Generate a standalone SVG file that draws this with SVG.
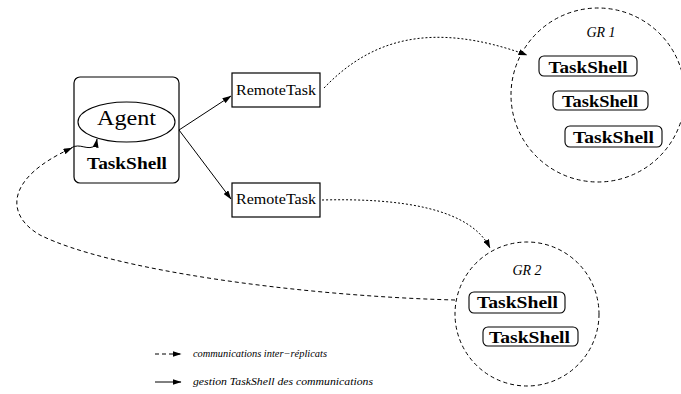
<svg xmlns="http://www.w3.org/2000/svg" width="681" height="394" viewBox="0 0 681 394">
<style>
.bx{fill:#fff;stroke:#000;stroke-width:1.2}
.pill{fill:#fff;stroke:#000;stroke-width:1.1}
.grp{fill:none;stroke:#000;stroke-width:1;stroke-dasharray:4 3}
.ts{font-family:"Liberation Serif",serif;font-weight:bold;font-size:17px;text-anchor:middle}
.rt{font-family:"Liberation Serif",serif;font-size:14px;text-anchor:middle}
.gr{font-family:"Liberation Serif",serif;font-style:italic;font-size:14px;text-anchor:middle}
.lg{font-family:"Liberation Serif",serif;font-style:italic;font-size:10px}
.solid{fill:none;stroke:#000;stroke-width:1}
.dot{fill:none;stroke:#000;stroke-width:1;stroke-dasharray:2 2}
.dash{fill:none;stroke:#000;stroke-width:1;stroke-dasharray:4 3}
</style>
<defs>
<marker id="ah" markerWidth="9" markerHeight="6" refX="8.5" refY="3" orient="auto" markerUnits="userSpaceOnUse">
<path d="M0,0 L9,3 L0,6 Z" fill="#000"/>
</marker>
</defs>
<rect width="681" height="394" fill="#fff"/>

<g id="agent-taskshell">
<rect class="bx" x="74" y="77" width="105" height="106" rx="6"/>
<ellipse cx="126.5" cy="122" rx="48.5" ry="20" fill="#fff" stroke="#000" stroke-width="1.1"/>
<text x="126.5" y="124.5" font-family="Liberation Serif,serif" font-size="22" text-anchor="middle" textLength="59" lengthAdjust="spacingAndGlyphs">Agent</text>
<text class="ts" x="127" y="169" textLength="80" lengthAdjust="spacingAndGlyphs">TaskShell</text>
</g>

<g id="remotetask1">
<rect class="bx" x="232" y="73" width="88" height="34"/>
<text class="rt" x="276" y="95" textLength="80" lengthAdjust="spacingAndGlyphs">RemoteTask</text>
</g>

<g id="remotetask2">
<rect class="bx" x="232" y="183" width="88" height="34"/>
<text class="rt" x="276" y="204" textLength="80" lengthAdjust="spacingAndGlyphs">RemoteTask</text>
</g>

<g id="gr1">
<circle class="grp" cx="598" cy="95" r="87"/>
<text class="gr" x="601" y="37">GR 1</text>
<rect class="pill" x="539" y="56" width="98" height="20" rx="5"/>
<text class="ts" x="588" y="72.5" textLength="79" lengthAdjust="spacingAndGlyphs">TaskShell</text>
<rect class="pill" x="553" y="91" width="95" height="19" rx="5"/>
<text class="ts" x="600" y="107" textLength="76" lengthAdjust="spacingAndGlyphs">TaskShell</text>
<rect class="pill" x="565" y="126" width="97" height="21" rx="5"/>
<text class="ts" x="613.5" y="143" textLength="81" lengthAdjust="spacingAndGlyphs">TaskShell</text>
</g>

<g id="gr2">
<circle class="grp" cx="527" cy="314" r="72"/>
<text class="gr" x="527" y="275">GR 2</text>
<rect class="pill" x="469" y="292" width="96" height="21" rx="5"/>
<text class="ts" x="517.5" y="308" textLength="81" lengthAdjust="spacingAndGlyphs">TaskShell</text>
<rect class="pill" x="483" y="327" width="95" height="19" rx="5"/>
<text class="ts" x="529.5" y="343" textLength="81" lengthAdjust="spacingAndGlyphs">TaskShell</text>
</g>

<g id="connectors">
<path class="solid" d="M179,130 L231,96" marker-end="url(#ah)"/>
<path class="solid" d="M179,130 L231,199" marker-end="url(#ah)"/>
<path class="dot" d="M324,88 C370,40 430,20 527,55" marker-end="url(#ah)"/>
<path class="dot" d="M322,200 C400,198 470,208 490,248" marker-end="url(#ah)"/>
<path class="dash" d="M455,300 C300,296 110,270 40,235 C5,215 5,178 72,148" marker-end="url(#ah)"/>
<path class="solid" d="M71,148 C80,142 88,152 96,145 L97,139" marker-end="url(#ah)"/>
</g>

<g id="legend">
<path class="dash" d="M155,354 L181,354" marker-end="url(#ah)"/>
<text class="lg" x="193" y="357" textLength="134" lengthAdjust="spacingAndGlyphs">communications inter−réplicats</text>
<path class="solid" d="M155,382 L181,382" marker-end="url(#ah)"/>
<text class="lg" x="193" y="385" textLength="180" lengthAdjust="spacingAndGlyphs">gestion TaskShell des communications</text>
</g>
</svg>
